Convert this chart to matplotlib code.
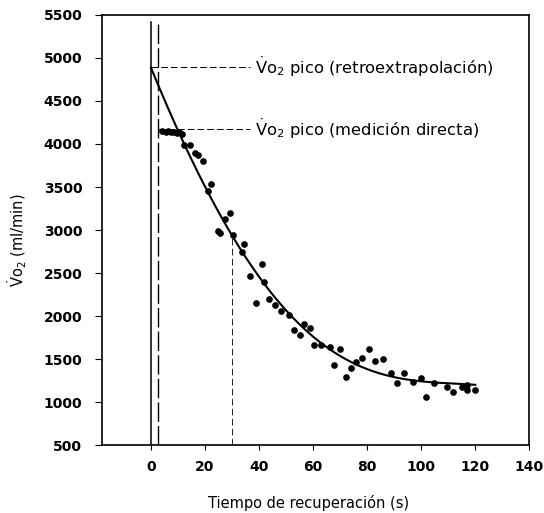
#!/bin/python3

import numpy as np
import matplotlib
matplotlib.use("Agg")
import matplotlib.pyplot as plt


# === CONFIGURATION ===
FIGURE_SIZE = (5.44, 5.13)
DPI = 100
TICK_FONTSIZE = 10
TEXT_FONTSIZE = 11.8
LABEL_FONTSIZE = 10.5

plt.rcParams['font.family'] = ['DejaVu Sans']
plt.rcParams['mathtext.fontset'] = 'custom'
plt.rcParams['mathtext.rm'] = 'DejaVu Sans'
plt.rcParams['mathtext.it'] = 'DejaVu Sans:italic'
plt.rcParams['mathtext.bf'] = 'DejaVu Sans:bold'

# === DATA ===
# measured VO2 during recovery (s, ml/min)
time_s = [4.0, 5.5, 6.5, 7.5, 8.7, 9.6, 10.5, 11.5, 12.2, 14.4,
          16.2, 17.5, 19.3, 22.4, 21.1, 29.2, 27.3, 24.8, 25.7, 30.4,
          34.6, 33.8, 41.0, 36.8, 41.7, 39.0, 43.7, 45.8, 48.0, 51.0,
          56.8, 59.0, 52.9, 55.1, 60.5, 63.0, 66.1, 70.0, 67.9, 72.0,
          74.1, 75.9, 78.0, 80.8, 82.9, 86.0, 88.8, 91.0, 93.8, 97.0,
          99.9, 101.7, 104.8, 109.7, 111.8, 115.0, 116.9, 116.9, 119.9]
vo2 = [4150, 4140, 4150, 4140, 4145, 4130, 4140, 4120, 3990, 3990,
       3894, 3868, 3798, 3531, 3454, 3203, 3133, 2990, 2966, 2940,
       2835, 2746, 2607, 2464, 2394, 2154, 2194, 2124, 2058, 2012,
       1904, 1857, 1838, 1780, 1663, 1663, 1644, 1614, 1432, 1289,
       1400, 1470, 1509, 1614, 1481, 1498, 1342, 1226, 1335, 1238,
       1277, 1057, 1226, 1173, 1122, 1173, 1200, 1142, 1142]

# points along the fitted recovery curve
curve_t = [0, 9.1, 21.1, 30.4, 41.4, 50.7, 62.4, 75.9, 87.0, 96.8, 104.2, 120.0]
curve_v = [4900, 4184, 3462, 2940, 2398, 2012, 1683, 1470, 1335, 1238, 1219, 1208]

RETRO_V = 4900      # VO2 peak by back-extrapolation
DIRECT_V = 4180     # VO2 peak measured directly
DELAY_T = 2.8       # start of the recovery sampling
MARK_T = 30         # dashed marker at 30 s
TOP_LINE_V = 5420
LINE_END_T = 36.5
TEXT_T = 38.4

x_ticks = [0, 20, 40, 60, 80, 100, 120, 140]
y_ticks = [500, 1000, 1500, 2000, 2500, 3000, 3500, 4000, 4500, 5000, 5500]

# === FIGURE ===
fig = plt.figure(figsize=FIGURE_SIZE, dpi=DPI)
ax = fig.add_axes([0.187, 0.132, 0.786, 0.839])

# fitted curve, smoothed through the read points
coef = np.polyfit(curve_t, curve_v, 4)
t_fit = np.linspace(0, 120, 300)
ax.plot(t_fit, np.polyval(coef, t_fit), color='black', linewidth=1.5)

# measured points
ax.plot(time_s, vo2, 'o', color='black', markersize=3.8)

# vertical reference lines
ax.plot([0, 0], [500, TOP_LINE_V], color='black', linewidth=1.1)
ax.plot([DELAY_T, DELAY_T], [500, TOP_LINE_V], color='black',
        linewidth=1.0, dashes=(14, 3))
ax.plot([MARK_T, MARK_T], [500, np.polyval(coef, MARK_T)], color='black',
        linewidth=0.6, dashes=(8, 4))

# horizontal peak lines
ax.plot([0, LINE_END_T], [RETRO_V, RETRO_V], color='black',
        linewidth=0.7, dashes=(7, 3))
ax.plot([DELAY_T, LINE_END_T], [DIRECT_V, DIRECT_V], color='black',
        linewidth=0.7, dashes=(7, 3))

ax.text(TEXT_T, RETRO_V, r'$\dot{\mathrm{V}}\mathrm{o}_2$ pico (retroextrapolación)',
        fontsize=TEXT_FONTSIZE, ha='left', va='center')
ax.text(TEXT_T, DIRECT_V, r'$\dot{\mathrm{V}}\mathrm{o}_2$ pico (medición directa)',
        fontsize=TEXT_FONTSIZE, ha='left', va='center')

# === AXES ===
ax.set_xlim(-18.2, 140)
ax.set_ylim(500, 5500)
ax.set_xticks(x_ticks)
ax.set_yticks(y_ticks)
ax.set_xticklabels([str(v) for v in x_ticks], fontsize=TICK_FONTSIZE,
                   fontweight='bold')
ax.set_yticklabels([str(v) for v in y_ticks], fontsize=TICK_FONTSIZE,
                   fontweight='bold')
ax.tick_params(axis='x', direction='out', length=3.5, width=0.8, pad=7)
ax.tick_params(axis='y', direction='out', length=5, width=0.8, pad=9)
for side in ['left', 'right', 'top', 'bottom']:
    ax.spines[side].set_linewidth(1.2)

fig.text(309 / 544, 1 - 503 / 513, 'Tiempo de recuperación (s)',
         fontsize=LABEL_FONTSIZE, ha='center', va='center')
fig.text(17 / 544, 1 - 240 / 513, r'$\dot{\mathrm{V}}\mathrm{o}_2$ (ml/min)',
         fontsize=LABEL_FONTSIZE, rotation=90, ha='center', va='center')

fig.savefig('out.png', dpi=DPI)
